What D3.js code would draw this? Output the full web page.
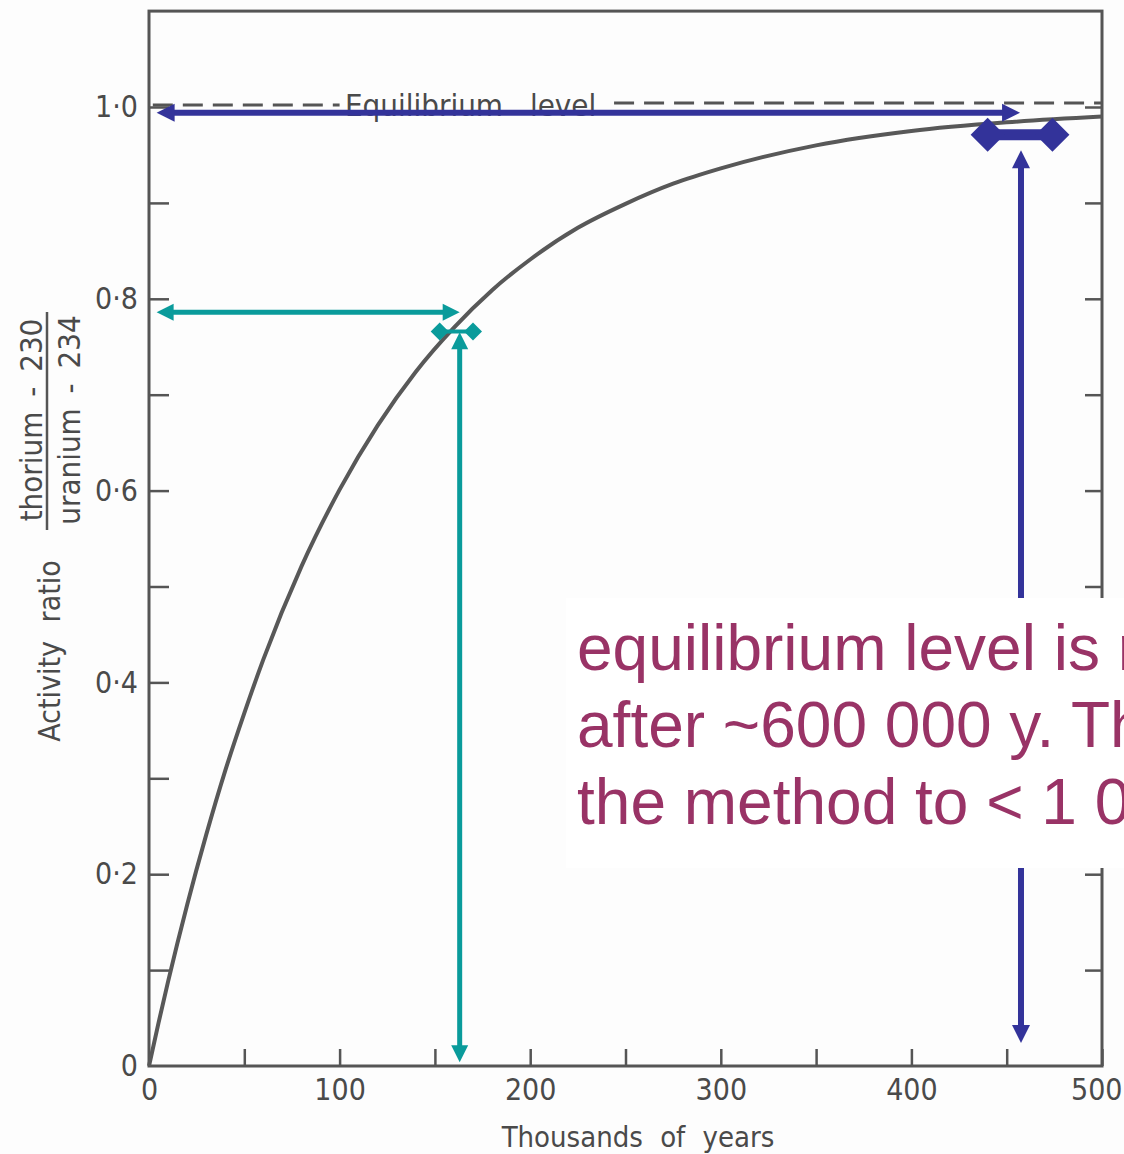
<!DOCTYPE html>
<html>
<head>
<meta charset="utf-8">
<script src="https://cdn.jsdelivr.net/npm/d3@7"></script>
<style>
  body { margin: 0; background: #fdfdfd; }
  svg { display: block; }
  .axis text { font-family: "DejaVu Sans Condensed", "DejaVu Sans", sans-serif; fill: #4a4a4a; }
  .axis line { stroke: #555; stroke-width: 2.5; }
  .axis path { display: none; }
</style>
</head>
<body>
<script>
// thorium-230 / uranium-234 growth curve
var ageKyr = [0, 5, 10, 20, 30, 40, 50, 60, 80, 100, 120, 140, 160, 180, 200, 225, 250, 275, 300, 350, 400, 450, 500];
var activityRatio = [0, 0.045, 0.088, 0.168, 0.241, 0.308, 0.368, 0.424, 0.521, 0.601, 0.668, 0.724, 0.770, 0.809, 0.841, 0.874, 0.899, 0.920, 0.936, 0.960, 0.975, 0.984, 0.990];

var xTicks = [50, 100, 150, 200, 250, 300, 350, 400, 450, 500];
var xTickLabels = ["0", "100", "200", "300", "400", "500"];
var yTicks = [0.1, 0.2, 0.3, 0.4, 0.5, 0.6, 0.7, 0.8, 0.9, 1.0];
var yTickLabels = ["0", "0·2", "0·4", "0·6", "0·8", "1·0"];

var equilibrium = 1.0;

// annotation arrows (in data units: thousands of years, activity ratio)
var tealArrowH = { x0: 4, x1: 163, y: 0.786 };
var tealBar = { x0: 152.5, x1: 170, y: 0.766 };
var tealArrowV = { x: 163, y0: 0.004, y1: 0.765 };
var blueArrowH = { x0: 4, x1: 457, y: 0.994 };
var blueBar = { x0: 440, x1: 474, y: 0.971 };
var blueArrowV = { x: 457.5, y0: 0.024, y1: 0.955 };

var note = ["equilibrium level is reached", "after ~600 000 y. This limits", "the method to < 1 000 000 y"];

var width = 1124, height = 1154;

var x = d3.scaleLinear().domain([0, 500]).range([149, 1102]);
var y = d3.scaleLinear().domain([0, 1.1]).range([1066, 11.1]);

var svg = d3.select("body").append("svg")
    .attr("width", width)
    .attr("height", height);

var font = '"DejaVu Sans Condensed", "DejaVu Sans", sans-serif';
var ink = "#4a4a4a";

// frame
svg.append("rect")
    .attr("x", x(0)).attr("y", y(1.1))
    .attr("width", x(500) - x(0)).attr("height", y(0) - y(1.1))
    .attr("fill", "none").attr("stroke", "#555").attr("stroke-width", 3);

// x axis, ticks pointing in
svg.append("g").attr("class", "axis")
    .attr("transform", "translate(0," + y(0) + ")")
    .call(d3.axisBottom(x).tickValues(xTicks).tickSize(-17).tickSizeOuter(0).tickFormat(""));
var xl = svg.append("g").attr("class", "axis")
    .attr("transform", "translate(0," + y(0) + ")")
    .call(d3.axisBottom(x).tickValues(d3.range(0, 501, 100)).tickSize(0).tickPadding(13)
        .tickFormat(function(d, i) { return xTickLabels[i]; }));
xl.selectAll("text").style("font-size", "30px");
// last label sits against the page edge
xl.selectAll("text").filter(function(d) { return d === 500; })
    .attr("text-anchor", "end").attr("x", width - 2 - x(500));

// y axis left + right
svg.append("g").attr("class", "axis")
    .attr("transform", "translate(" + x(0) + ",0)")
    .call(d3.axisLeft(y).tickValues(yTicks).tickSize(-20).tickSizeOuter(0).tickFormat(""));
svg.append("g").attr("class", "axis")
    .attr("transform", "translate(" + x(500) + ",0)")
    .call(d3.axisRight(y).tickValues(yTicks).tickSize(-17).tickSizeOuter(0).tickFormat(""));
svg.append("g").attr("class", "axis")
    .attr("transform", "translate(" + (x(0) - 11) + ",0)")
    .call(d3.axisLeft(y).tickValues([0, 0.2, 0.4, 0.6, 0.8, 1.0]).tickSize(0).tickPadding(0)
        .tickFormat(function(d, i) { return yTickLabels[i]; }))
    .selectAll("text").style("font-size", "30px");

// axis titles
svg.append("text")
    .attr("x", 638).attr("y", 1147)
    .attr("text-anchor", "middle")
    .style("font-family", font).style("font-size", "29px").style("fill", ink)
    .style("word-spacing", "9px")
    .text("Thousands of years");

var yt = svg.append("g").attr("transform", "translate(60,651) rotate(-90)");
yt.append("text").attr("text-anchor", "middle")
    .style("font-family", font).style("font-size", "30px").style("fill", ink)
    .style("word-spacing", "10px")
    .text("Activity ratio");
var fr = svg.append("g").attr("transform", "translate(47,420) rotate(-90)");
fr.append("text").attr("text-anchor", "middle").attr("y", -5)
    .style("font-family", font).style("font-size", "31px").style("fill", ink)
    .style("word-spacing", "6px")
    .text("thorium - 230");
fr.append("line").attr("x1", -110).attr("x2", 108)
    .attr("stroke", "#555").attr("stroke-width", 2.5);
fr.append("text").attr("text-anchor", "middle").attr("y", 33)
    .style("font-family", font).style("font-size", "31px").style("fill", ink)
    .style("word-spacing", "6px")
    .text("uranium - 234");

// equilibrium dashed line with its label
svg.append("line")
    .attr("x1", x(2)).attr("x2", x(100)).attr("y1", y(equilibrium) - 2).attr("y2", y(equilibrium) - 2)
    .attr("stroke", "#555").attr("stroke-width", 3).attr("stroke-dasharray", "20,10");
svg.append("line")
    .attr("x1", x(244)).attr("x2", x(500)).attr("y1", y(equilibrium) - 4).attr("y2", y(equilibrium) - 4)
    .attr("stroke", "#555").attr("stroke-width", 3).attr("stroke-dasharray", "20,10");
svg.append("text")
    .attr("x", 345).attr("y", 116)
    .style("font-family", font).style("font-size", "31px").style("fill", ink)
    .style("word-spacing", "18px")
    .text("Equilibrium level");

// growth curve
var line = d3.line()
    .x(function(d, i) { return x(ageKyr[i]); })
    .y(function(d) { return y(d); })
    .curve(d3.curveMonotoneX);
svg.append("path")
    .datum(activityRatio)
    .attr("d", line)
    .attr("fill", "none")
    .attr("stroke", "#585858")
    .attr("stroke-width", 4);

// arrow helpers
function head(px, py, dx, dy, len, half) {
  // tip at (px,py), pointing in direction (dx,dy)
  var bx = px - dx * len, by = py - dy * len;
  return "M" + px + "," + py +
    "L" + (bx - dy * half) + "," + (by + dx * half) +
    "L" + (bx + dy * half) + "," + (by - dx * half) + "Z";
}
function diamond(cx, cy, r) {
  return "M" + (cx - r) + "," + cy + "L" + cx + "," + (cy - r) + "L" + (cx + r) + "," + cy + "L" + cx + "," + (cy + r) + "Z";
}

function drawSet(color, h, bar, v, lw, barW, dr, hl, hh) {
  var g = svg.append("g");
  // horizontal double arrow
  g.append("line")
      .attr("x1", x(h.x0) + hl - 2).attr("x2", x(h.x1) - hl + 2)
      .attr("y1", y(h.y)).attr("y2", y(h.y))
      .attr("stroke", color).attr("stroke-width", lw);
  g.append("path").attr("d", head(x(h.x0), y(h.y), -1, 0, hl, hh)).attr("fill", color);
  g.append("path").attr("d", head(x(h.x1), y(h.y), 1, 0, hl, hh)).attr("fill", color);
  // diamond-ended bar
  g.append("line")
      .attr("x1", x(bar.x0)).attr("x2", x(bar.x1))
      .attr("y1", y(bar.y)).attr("y2", y(bar.y))
      .attr("stroke", color).attr("stroke-width", barW);
  g.append("path").attr("d", diamond(x(bar.x0), y(bar.y), dr)).attr("fill", color);
  g.append("path").attr("d", diamond(x(bar.x1), y(bar.y), dr)).attr("fill", color);
  // vertical double arrow
  g.append("line")
      .attr("x1", x(v.x)).attr("x2", x(v.x))
      .attr("y1", y(v.y1) + hl - 2).attr("y2", y(v.y0) - hl + 2)
      .attr("stroke", color).attr("stroke-width", lw);
  g.append("path").attr("d", head(x(v.x), y(v.y1), 0, -1, hl, hh)).attr("fill", color);
  g.append("path").attr("d", head(x(v.x), y(v.y0), 0, 1, hl, hh)).attr("fill", color);
}

drawSet("#0a9b9b", tealArrowH, tealBar, tealArrowV, 5, 4, 9, 17, 8.5);
drawSet("#33339a", blueArrowH, blueBar, blueArrowV, 6, 11, 17, 18, 9);

// note box over the plot (runs off the right edge, as in the slide)
svg.append("rect")
    .attr("x", 566).attr("y", 598)
    .attr("width", width - 566).attr("height", 270)
    .attr("fill", "#ffffff");
svg.append("g").selectAll("text")
    .data(note)
    .enter().append("text")
    .attr("x", 577)
    .attr("y", function(d, i) { return 670 + i * 77; })
    .style("font-family", "Liberation Sans, Arial, sans-serif")
    .style("font-size", "64px")
    .style("fill", "#993366")
    .text(function(d) { return d; });
</script>
</body>
</html>
